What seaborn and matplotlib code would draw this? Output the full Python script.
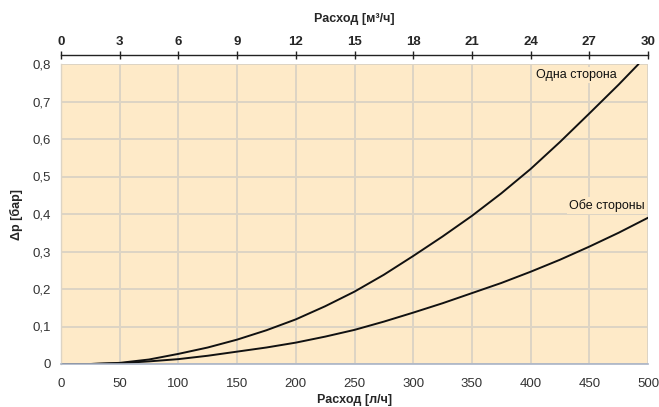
import matplotlib
matplotlib.use("Agg")
import matplotlib.pyplot as plt
import matplotlib.ticker as mticker
import seaborn as sns
import pandas as pd

# Data
flow_one = [0, 25, 50, 75, 100, 125, 150, 175, 200, 225, 250, 275, 300, 325, 350, 375, 400, 425, 450, 475, 492]
dp_one = [0, 0.0, 0.003, 0.012, 0.027, 0.044, 0.065, 0.090, 0.119, 0.154, 0.193, 0.238, 0.288, 0.340, 0.395, 0.455, 0.520, 0.592, 0.668, 0.745, 0.8]
flow_both = [0, 25, 50, 75, 100, 125, 150, 175, 200, 225, 250, 275, 300, 325, 350, 375, 400, 425, 450, 475, 500]
dp_both = [0, 0.0, 0.002, 0.007, 0.013, 0.022, 0.033, 0.044, 0.057, 0.073, 0.091, 0.113, 0.137, 0.162, 0.189, 0.216, 0.246, 0.278, 0.313, 0.350, 0.39]
series_names = ["Одна сторона", "Обе стороны"]
x_ticks = [0, 50, 100, 150, 200, 250, 300, 350, 400, 450, 500]
top_ticks = [0, 3, 6, 9, 12, 15, 18, 21, 24, 27, 30]
y_ticks = [0, 0.1, 0.2, 0.3, 0.4, 0.5, 0.6, 0.7, 0.8]

df = pd.concat([
    pd.DataFrame({"flow": flow_one, "dp": dp_one, "series": series_names[0]}),
    pd.DataFrame({"flow": flow_both, "dp": dp_both, "series": series_names[1]}),
])

sns.set_style("white")
plt.rcParams["font.family"] = ["Liberation Sans", "DejaVu Sans"]

BG = "#feeac8"
GRID = "#ddd4c4"

fig = plt.figure(figsize=(6.59, 4.07), dpi=100)
ax = fig.add_axes([61 / 659, 43 / 407, 587 / 659, 300 / 407])
ax.set_facecolor(BG)

sns.lineplot(data=df, x="flow", y="dp", hue="series", palette=["#111111", "#111111"],
             linewidth=1.4, legend=False, ax=ax, sort=False, estimator=None)

ax.set_xlim(0, 500)
ax.set_ylim(0, 0.8)
ax.set_xticks(x_ticks)
ax.set_yticks(y_ticks)
ax.xaxis.set_minor_locator(mticker.MultipleLocator(10))
ax.yaxis.set_minor_locator(mticker.MultipleLocator(0.02))
ax.yaxis.set_major_formatter(mticker.FuncFormatter(
    lambda v, p: "0" if abs(v) < 1e-9 else f"{v:.1f}".replace(".", ",")))
ax.grid(True, which="major", color=GRID, linewidth=1.4)
ax.set_axisbelow(True)

for s in ["top", "right"]:
    ax.spines[s].set_visible(False)
ax.spines["left"].set_color(GRID)
ax.spines["left"].set_linewidth(1.0)
ax.spines["bottom"].set_color("#aab4c6")
ax.spines["bottom"].set_linewidth(1.2)

ax.tick_params(axis="x", which="major", direction="inout", length=5, color="#999999",
               labelsize=9.5, labelcolor="#333333", pad=7.5)
ax.tick_params(axis="x", which="minor", direction="in", length=3, color="#999999")
ax.tick_params(axis="y", which="major", direction="out", length=3, color="#999999",
               labelsize=9.5, labelcolor="#333333", pad=4)
ax.tick_params(axis="y", which="minor", direction="in", length=3, color="#999999")

ax.set_xlabel("Расход [л/ч]", fontsize=9, fontweight="bold", labelpad=3)
ax.set_ylabel("Δp [бар]", fontsize=9, fontweight="bold", labelpad=7)

# Top axis in m³/h
sec = ax.secondary_xaxis("top", functions=(lambda x: x * 0.06, lambda x: x / 0.06))
sec.set_xticks(top_ticks)
sec.spines["top"].set_position(("outward", 6.5))
sec.spines["top"].set_color("#222222")
sec.spines["top"].set_linewidth(1.0)
sec.tick_params(axis="x", direction="inout", length=5.5, width=1.0, color="#222222",
                labelsize=9.5, pad=2.5)
for lbl in sec.get_xticklabels():
    lbl.set_fontweight("bold")
sec.set_xlabel("Расход [м³/ч]", fontsize=9, fontweight="bold", labelpad=10)

# Series labels
ax.text(405, 0.77, series_names[0], fontsize=9, ha="left", va="center", color="#111111",
        bbox=dict(facecolor=BG, edgecolor="none", pad=1.5))
ax.text(497, 0.423, series_names[1], fontsize=9, ha="right", va="center", color="#111111",
        bbox=dict(facecolor=BG, edgecolor="none", pad=1.5))

fig.savefig("out.png", dpi=100, facecolor="white")
